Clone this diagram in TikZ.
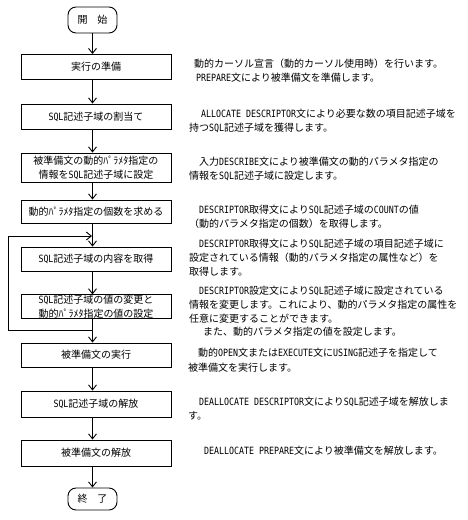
\documentclass[tikz,border=0pt]{standalone}
\usepackage{fontspec}
\newfontfamily\jp{Noto Sans CJK JP}
\newfontfamily\latfont[FakeStretch=0.83]{DejaVu Sans Mono}
\newcommand\latn[1]{{\latfont #1}}
\usetikzlibrary{arrows.meta}
\begin{document}
\begin{tikzpicture}[x=1pt,y=-1pt,font=\jp\fontsize{10pt}{14pt}\selectfont,
  box/.style={draw,line width=0.9pt,minimum width=150pt,inner sep=0pt,align=center},
  term/.style={draw,line width=0.9pt,rounded corners=8pt,minimum width=49pt,inner sep=0pt},
  txt/.style={anchor=base west,inner sep=0pt},
  arr/.style={line width=0.9pt,-{Straight Barb[length=5pt,width=8pt]}}]
\fill[white] (0,0) rectangle (468,520);
\useasboundingbox (0,0) rectangle (468,520);
% flow nodes
\node[term,minimum height=26pt] (s) at (92.5,20) {開　始};
\node[box,minimum height=25pt] (b1) at (96,67) {実行の準備};
\node[box,minimum height=25pt] (b2) at (96,116.5) {\latn{SQL}記述子域の割当て};
\node[box,minimum height=29pt] (b3) at (96,167.5) {被準備文の動的ﾊﾟﾗﾒﾀ指定の\\情報を\latn{SQL}記述子域に設定};
\node[box,minimum height=23pt] (b4) at (96,211.5) {動的ﾊﾟﾗﾒﾀ指定の個数を求める};
\node[box,minimum height=24pt] (b5) at (96,259) {\latn{SQL}記述子域の内容を取得};
\node[box,minimum height=23pt] (b6) at (96,306.5) {\latn{SQL}記述子域の値の変更と\\動的ﾊﾟﾗﾒﾀ指定の値の設定};
\node[box,minimum height=24pt] (b7) at (96,355) {被準備文の実行};
\node[box,minimum height=26pt] (b8) at (96,404) {\latn{SQL}記述子域の解放};
\node[box,minimum height=26pt] (b9) at (96,453) {被準備文の解放};
\node[term,minimum height=22pt] (e) at (92.5,499) {終　了};
% connectors
\draw[arr] (s.south) -- (b1.north -| s.south);
\draw[arr] (b1.south -| s.south) -- (b2.north -| s.south);
\draw[arr] (b2.south -| s.south) -- (b3.north -| s.south);
\draw[arr] (b3.south -| s.south) -- (b4.north -| s.south);
\draw[arr] (b4.south -| s.south) -- (b5.north -| s.south);
\draw[arr] (b5.south -| s.south) -- (b6.north -| s.south);
\draw[arr] (b6.south -| s.south) -- (b7.north -| s.south);
\draw[arr] (b7.south -| s.south) -- (b8.north -| s.south);
\draw[arr] (b8.south -| s.south) -- (b9.north -| s.south);
\draw[arr] (b9.south -| s.south) -- (e.north);
% loop
\coordinate (lp0) at (92.5,330);
\coordinate (lp1) at (8,330);
\coordinate (lp2) at (8,236);
\coordinate (lp3) at (92,236);
\draw[arr] (lp0) -- (lp1) -- (lp2) -- (lp3);
% descriptions
\node[txt] (d1a) at (194,67) {動的カーソル宣言（動的カーソル使用時）を行います。};
\node[txt] (d1b) at (196,81) {\latn{PREPARE}文により被準備文を準備します。};
\node[txt] (d2a) at (201,117) {\latn{ALLOCATE DESCRIPTOR}文により必要な数の項目記述子域を};
\node[txt] (d2b) at (189,131) {持つ\latn{SQL}記述子域を獲得します。};
\node[txt] (d3a) at (199,165) {入力\latn{DESCRIBE}文により被準備文の動的パラメタ指定の};
\node[txt] (d3b) at (189,179) {情報を\latn{SQL}記述子域に設定します。};
\node[txt] (d4a) at (199,213) {\latn{DESCRIPTOR}取得文により\latn{SQL}記述子域の\latn{COUNT}の値};
\node[txt] (d4b) at (189,227) {（動的パラメタ指定の個数）を取得します。};
\node[txt] (d5a) at (199,247) {\latn{DESCRIPTOR}取得文により\latn{SQL}記述子域の項目記述子域に};
\node[txt] (d5b) at (189,261) {設定されている情報（動的パラメタ指定の属性など）を};
\node[txt] (d5c) at (189,275) {取得します。};
\node[txt] (d6a) at (199,294) {\latn{DESCRIPTOR}設定文により\latn{SQL}記述子域に設定されている};
\node[txt] (d6b) at (189,308) {情報を変更します。これにより、動的パラメタ指定の属性を};
\node[txt] (d6c) at (189,322) {任意に変更することができます。};
\node[txt] (d6d) at (203,335) {また、動的パラメタ指定の値を設定します。};
\node[txt] (d7a) at (198,356) {動的\latn{OPEN}文または\latn{EXECUTE}文に\latn{USING}記述子を指定して};
\node[txt] (d7b) at (188,371) {被準備文を実行します。};
\node[txt] (d8a) at (199,405) {\latn{DEALLOCATE DESCRIPTOR}文により\latn{SQL}記述子域を解放しま};
\node[txt] (d8b) at (188,419) {す。};
\node[txt] (d9a) at (204,454) {\latn{DEALLOCATE PREPARE}文により被準備文を解放します。};
\end{tikzpicture}
\end{document}
